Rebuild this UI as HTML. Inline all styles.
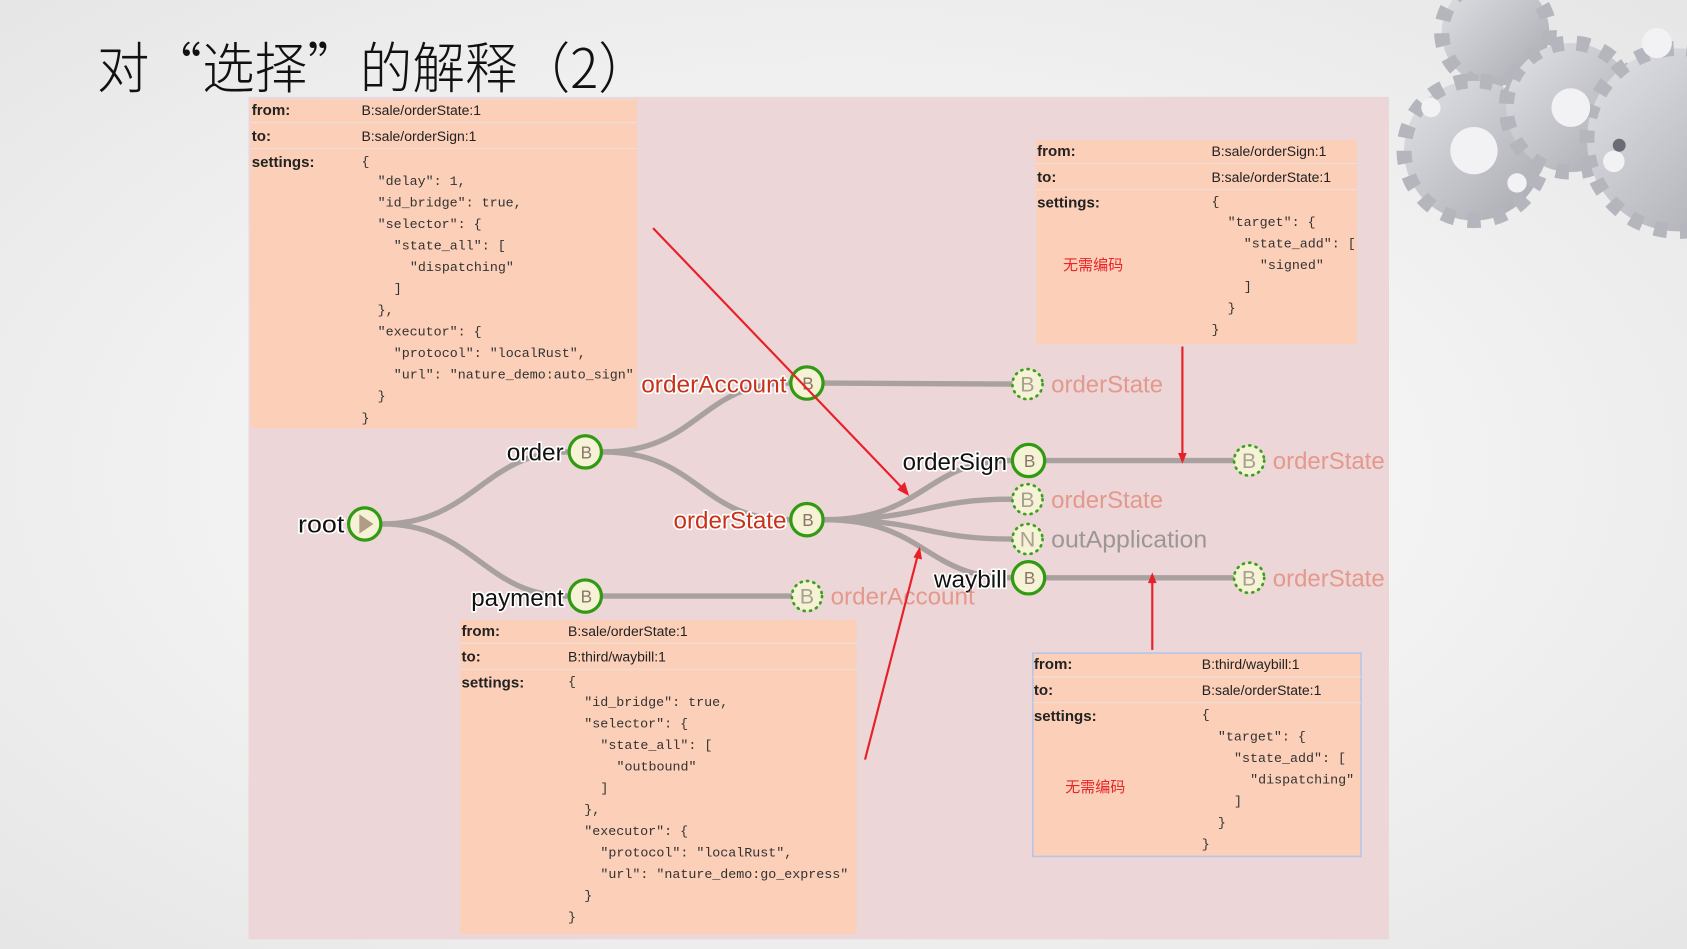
<!DOCTYPE html>
<html><head><meta charset="utf-8"><style>html,body{margin:0;padding:0;overflow:hidden}svg{display:block}</style></head>
<body>
<svg width="1687" height="949" viewBox="0 0 1568 882" preserveAspectRatio="none" xmlns="http://www.w3.org/2000/svg">
<defs>
<radialGradient id="bg" cx="0.5" cy="0.5" r="0.7"><stop offset="0" stop-color="#ffffff"/><stop offset="1" stop-color="#e6e6e6"/></radialGradient>
<linearGradient id="gear" x1="0" y1="0" x2="1" y2="1"><stop offset="0" stop-color="#e2e3e7"/><stop offset="1" stop-color="#a8a9b0"/></linearGradient>
</defs>
<rect width="1568" height="882" fill="url(#bg)"/>
<!-- gears -->
<g fill="url(#gear)" stroke="#b5b6bd" stroke-width="14" stroke-dasharray="12 12">
<circle cx="1390" cy="30" r="50"/>
<circle cx="1370" cy="140" r="65"/>
<circle cx="1460" cy="100" r="60"/>
<circle cx="1560" cy="130" r="85"/>
</g>
<g fill="#f2f2f4"><circle cx="1370" cy="140" r="22"/><circle cx="1460" cy="100" r="18"/><circle cx="1540" cy="40" r="14"/><circle cx="1330" cy="100" r="9"/><circle cx="1410" cy="170" r="9"/><circle cx="1500" cy="150" r="10"/></g>
<g fill="#6a6b75"><circle cx="1505" cy="135" r="6"/></g>
<!-- title -->
<text x="90" y="82" font-family="'Noto Sans CJK SC',sans-serif" font-weight="300" font-size="51" fill="#111" textLength="515" lengthAdjust="spacingAndGlyphs">对“选择”的解释（2）</text>
<!-- panel -->
<rect x="231" y="90" width="1060" height="783" fill="#edd6d7"/>
<!-- links -->
<g fill="none" stroke="#a9a0a0" stroke-width="5" stroke-linecap="round">
<path d="M355 487 C440 487 450 420 528 420"/>
<path d="M355 487 C440 487 450 554 528 554"/>
<path d="M560 420 C650 420 650 356 734 356"/>
<path d="M560 420 C650 420 650 483 734 483"/>
<path d="M766 356 L940 357"/>
<path d="M560 554 L735 554"/>
<path d="M766 483 C860 483 860 428 940 428"/>
<path d="M766 483 C860 483 860 464 940 464"/>
<path d="M766 483 C860 483 860 501 940 501"/>
<path d="M766 483 C860 483 860 537 940 537"/>
<path d="M972 428 L1145 428"/>
<path d="M972 537 L1145 537"/>
</g>
<!-- boxes -->
<g font-family="'Liberation Sans',sans-serif" font-size="13" fill="#222">
<rect x="233" y="93" width="359" height="305" fill="#fbcfb8"/>
<line x1="233" y1="114" x2="592" y2="114" stroke="#f0e0d8"/><line x1="233" y1="138" x2="592" y2="138" stroke="#f0e0d8"/>
<text x="234" y="107" font-weight="bold" font-size="14">from:</text><text x="336" y="107">B:sale/orderState:1</text>
<text x="234" y="131" font-weight="bold" font-size="14">to:</text><text x="336" y="131">B:sale/orderSign:1</text>
<text x="234" y="155" font-weight="bold" font-size="14">settings:</text>
<g font-family="'Liberation Mono',monospace" font-size="12.4" fill="#333">
<text x="336" y="154">{</text><text x="351" y="172">"delay": 1,</text><text x="351" y="192">"id_bridge": true,</text><text x="351" y="212">"selector": {</text><text x="366" y="232">"state_all": [</text><text x="381" y="252">"dispatching"</text><text x="366" y="272">]</text><text x="351" y="292">},</text><text x="351" y="312">"executor": {</text><text x="366" y="332">"protocol": "localRust",</text><text x="366" y="352">"url": "nature_demo:auto_sign"</text><text x="351" y="372">}</text><text x="336" y="392">}</text>
</g>

<rect x="963" y="130" width="298" height="190" fill="#fbcfb8"/>
<line x1="963" y1="152" x2="1261" y2="152" stroke="#f0e0d8"/><line x1="963" y1="176" x2="1261" y2="176" stroke="#f0e0d8"/>
<text x="964" y="145" font-weight="bold" font-size="14">from:</text><text x="1126" y="145">B:sale/orderSign:1</text>
<text x="964" y="169" font-weight="bold" font-size="14">to:</text><text x="1126" y="169">B:sale/orderState:1</text>
<text x="964" y="193" font-weight="bold" font-size="14">settings:</text>
<text x="988" y="251" fill="#e8262a" font-family="'Liberation Sans','Noto Sans CJK SC',sans-serif" font-size="14">无需编码</text>
<g font-family="'Liberation Mono',monospace" font-size="12.4" fill="#333">
<text x="1126" y="191">{</text><text x="1141" y="210">"target": {</text><text x="1156" y="230">"state_add": [</text><text x="1171" y="250">"signed"</text><text x="1156" y="270">]</text><text x="1141" y="290">}</text><text x="1126" y="310">}</text>
</g>

<rect x="428" y="576" width="368" height="292" fill="#fbcfb8"/>
<line x1="428" y1="598" x2="796" y2="598" stroke="#f0e0d8"/><line x1="428" y1="622" x2="796" y2="622" stroke="#f0e0d8"/>
<text x="429" y="591" font-weight="bold" font-size="14">from:</text><text x="528" y="591">B:sale/orderState:1</text>
<text x="429" y="615" font-weight="bold" font-size="14">to:</text><text x="528" y="615">B:third/waybill:1</text>
<text x="429" y="639" font-weight="bold" font-size="14">settings:</text>
<g font-family="'Liberation Mono',monospace" font-size="12.4" fill="#333">
<text x="528" y="637">{</text><text x="543" y="656">"id_bridge": true,</text><text x="543" y="676">"selector": {</text><text x="558" y="696">"state_all": [</text><text x="573" y="716">"outbound"</text><text x="558" y="736">]</text><text x="543" y="756">},</text><text x="543" y="776">"executor": {</text><text x="558" y="796">"protocol": "localRust",</text><text x="558" y="816">"url": "nature_demo:go_express"</text><text x="543" y="836">}</text><text x="528" y="856">}</text>
</g>

<rect x="960" y="607" width="305" height="189" fill="#fbcfb8" stroke="#b8c4e6" stroke-width="1.5"/>
<line x1="960" y1="629" x2="1265" y2="629" stroke="#f0e0d8"/><line x1="960" y1="653" x2="1265" y2="653" stroke="#f0e0d8"/>
<text x="961" y="622" font-weight="bold" font-size="14">from:</text><text x="1117" y="622">B:third/waybill:1</text>
<text x="961" y="646" font-weight="bold" font-size="14">to:</text><text x="1117" y="646">B:sale/orderState:1</text>
<text x="961" y="670" font-weight="bold" font-size="14">settings:</text>
<text x="990" y="736" fill="#e8262a" font-family="'Liberation Sans','Noto Sans CJK SC',sans-serif" font-size="14">无需编码</text>
<g font-family="'Liberation Mono',monospace" font-size="12.4" fill="#333">
<text x="1117" y="668">{</text><text x="1132" y="688">"target": {</text><text x="1147" y="708">"state_add": [</text><text x="1162" y="728">"dispatching"</text><text x="1147" y="748">]</text><text x="1132" y="768">}</text><text x="1117" y="788">}</text>
</g>
</g>
<!-- solid nodes -->
<g stroke="#2f9a12" stroke-width="3" fill="#f6f2d6">
<circle cx="339" cy="487" r="15"/><circle cx="544" cy="420" r="15"/><circle cx="544" cy="554" r="15"/>
<circle cx="750" cy="356" r="15"/><circle cx="750" cy="483" r="15"/><circle cx="956" cy="428" r="15"/><circle cx="956" cy="537" r="15"/>
</g>
<polygon points="334,478 334,496 347,487" fill="#b09a88"/>
<g font-family="'Liberation Sans',sans-serif" font-size="16" fill="#8a7568" text-anchor="middle">
<text x="545" y="426">B</text><text x="545" y="560">B</text><text x="751" y="362">B</text><text x="751" y="489">B</text><text x="957" y="434">B</text><text x="957" y="543">B</text>
</g>
<!-- dotted nodes -->
<g stroke="#3aa21a" stroke-width="2.5" stroke-dasharray="1 5" stroke-linecap="round" fill="#f6f2d6">
<circle cx="955" cy="357" r="14"/><circle cx="1161" cy="428" r="14"/><circle cx="955" cy="464" r="14"/><circle cx="955" cy="501" r="14"/><circle cx="750" cy="554" r="14"/><circle cx="1161" cy="537" r="14"/>
</g>
<g font-family="'Liberation Sans',sans-serif" font-size="20" fill="#a8a090" text-anchor="middle">
<text x="955" y="364">B</text><text x="1161" y="435">B</text><text x="955" y="471">B</text><text x="955" y="508">N</text><text x="750" y="561">B</text><text x="1161" y="544">B</text>
</g>
<!-- labels -->
<g font-family="'Liberation Sans',sans-serif" font-size="22" stroke="#fff" stroke-width="3" paint-order="stroke" stroke-linejoin="round">
<text x="320" y="495" text-anchor="end" fill="#111" textLength="43" lengthAdjust="spacingAndGlyphs">root</text>
<text x="524" y="428" text-anchor="end" fill="#111" textLength="53" lengthAdjust="spacingAndGlyphs">order</text>
<text x="524" y="563" text-anchor="end" fill="#111" textLength="86" lengthAdjust="spacingAndGlyphs">payment</text>
<text x="936" y="437" text-anchor="end" fill="#111" textLength="97" lengthAdjust="spacingAndGlyphs">orderSign</text>
<text x="936" y="546" text-anchor="end" fill="#111" textLength="68" lengthAdjust="spacingAndGlyphs">waybill</text>
<text x="731" y="365" text-anchor="end" fill="#c8321a" textLength="135" lengthAdjust="spacingAndGlyphs">orderAccount</text>
<text x="731" y="491" text-anchor="end" fill="#c8321a" textLength="105" lengthAdjust="spacingAndGlyphs">orderState</text>
</g>
<g font-family="'Liberation Sans',sans-serif" font-size="22" fill="#e3998c">
<text x="977" y="365" textLength="104" lengthAdjust="spacingAndGlyphs">orderState</text><text x="1183" y="436" textLength="104" lengthAdjust="spacingAndGlyphs">orderState</text><text x="977" y="472" textLength="104" lengthAdjust="spacingAndGlyphs">orderState</text>
<text x="977" y="509" fill="#9c9696" textLength="145" lengthAdjust="spacingAndGlyphs">outApplication</text>
<text x="772" y="562" textLength="134" lengthAdjust="spacingAndGlyphs">orderAccount</text><text x="1183" y="545" textLength="104" lengthAdjust="spacingAndGlyphs">orderState</text>
</g>
<!-- red arrows -->
<g stroke="#e8202a" stroke-width="2" fill="#e8202a">
<line x1="607" y1="212" x2="840" y2="455"/><polygon points="845,461 834,455 841,448" stroke="none"/>
<line x1="804" y1="706" x2="853" y2="516"/><polygon points="855,508 857,520 849,518" stroke="none"/>
<line x1="1099" y1="322" x2="1099" y2="422"/><polygon points="1099,431 1095,421 1103,421" stroke="none"/>
<line x1="1071" y1="604" x2="1071" y2="541"/><polygon points="1071,532 1067,542 1075,542" stroke="none"/>
</g>
</svg>
</body></html>
